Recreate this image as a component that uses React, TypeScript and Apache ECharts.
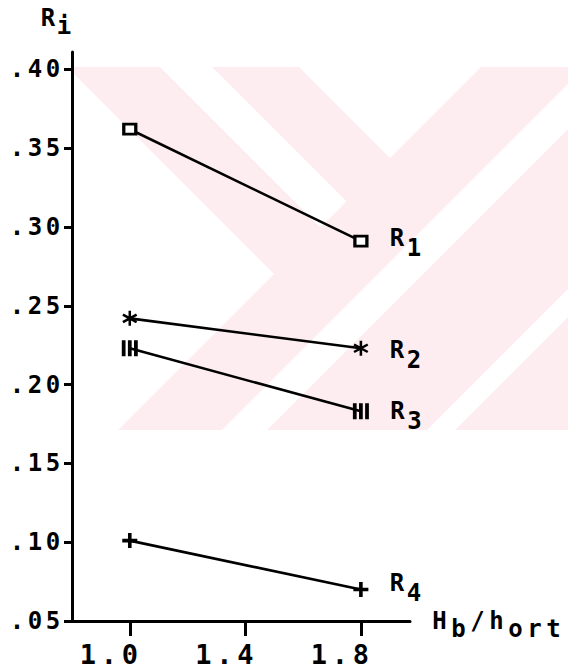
import React, { useEffect, useRef } from "react";
import * as echarts from "echarts";

// Abscissa: Hb/hort ratio at which each coefficient was evaluated
const ratioLevels = [1.0, 1.8];
// Coefficients R1..R4 at each ratio
const r1Values = [0.362, 0.291];
const r2Values = [0.242, 0.223];
const r3Values = [0.223, 0.183];
const r4Values = [0.101, 0.07];
const seriesIndexLabels = ["1", "2", "3", "4"];
// Axis ticks
const xTickValues = [1.0, 1.4, 1.8];
const yTickValues = [0.05, 0.1, 0.15, 0.2, 0.25, 0.3, 0.35, 0.4];

const FONT = "'DejaVu Sans Mono', monospace";
const INK = "#000";
const WATERMARK = "#fdedf0";

// marker glyphs, drawn as filled paths
const asteriskPath =
  "path://M4.2,0H5.8V10H4.2Z M8.93,1.81L9.73,3.19L1.07,8.19L0.27,6.81Z M9.73,6.81L8.93,8.19L0.27,3.19L1.07,1.81Z";
const barsPath = "path://M0,0H4V16H0Z M6.5,0H10.5V16H6.5Z M13,0H17V16H13Z";
const plusPath = "path://M3.8,0H6.2V3.8H10V6.2H6.2V10H3.8V6.2H0V3.8H3.8Z";

const markerSymbols = ["rect", asteriskPath, barsPath, plusPath];
const markerSizes = [[12, 10], [15, 15], [16, 16], [15, 15]];
const labelShift = [-3, 2, 0, -6];

// printer-style text: every character sits in a fixed-width cell
const cells = (text: string, key: string) =>
  text
    .split("")
    .map((ch) => `{${key}|${ch}}`)
    .join("");

const cellStyle = (size: number, width: number, drop = 0) => ({
  fontFamily: FONT,
  fontWeight: "bold",
  fontSize: size,
  color: INK,
  width,
  align: "center",
  padding: [drop * 2, 0, 0, 0],
});

const subscriptRich = (size: number, width: number, drop: number) => ({
  m: cellStyle(size, width),
  s: cellStyle(size, width, drop),
});

// pale chevron watermark behind the plot
const watermarkBox = { x: 74, y: 67, width: 494, height: 363 };
const watermarkGaps: number[][][] = [
  [[74, 74], [274, 274], [118, 430], [74, 430]],
  [[160, 67], [212, 67], [346.5, 201.5], [320.5, 227.5]],
  [[299, 67], [481, 67], [390, 158]],
  [[222, 430], [267, 430], [568, 129], [568, 84]],
  [[427, 430], [455, 430], [568, 317], [568, 289]],
];

export default function App() {
  const ref = useRef<HTMLDivElement>(null);

  useEffect(() => {
    if (!ref.current) return;
    const chart = echarts.init(ref.current, undefined, { renderer: "svg" });

    const allValues = [r1Values, r2Values, r3Values, r4Values];
    const series = allValues.map((vals, si) => ({
      type: "line",
      name: "R" + seriesIndexLabels[si],
      symbol: markerSymbols[si],
      symbolSize: markerSizes[si],
      showAllSymbol: true,
      lineStyle: { color: INK, width: 2.6 },
      itemStyle:
        si === 0
          ? { color: "#fff", borderColor: INK, borderWidth: 3 }
          : { color: INK, borderWidth: 0 },
      z: 3,
      data: ratioLevels.map((x, i) =>
        i === ratioLevels.length - 1
          ? {
              value: [x, vals[i]],
              label: {
                show: true,
                position: "right",
                distance: 20,
                offset: [0, labelShift[si]],
                formatter: `{m|R}{s|${seriesIndexLabels[si]}}`,
                rich: subscriptRich(24, 17, 10),
              },
            }
          : [x, vals[i]]
      ),
    }));

    const graphic: any[] = [
      {
        type: "rect",
        silent: true,
        z: -10,
        shape: watermarkBox,
        style: { fill: WATERMARK },
      },
      ...watermarkGaps.map((pts) => ({
        type: "polygon",
        silent: true,
        z: -9,
        shape: { points: pts },
        style: { fill: "#fff" },
      })),
    ];

    const xName =
      cells("H", "m") + cells("b", "s") + cells("/h", "m") + cells("ort", "s");

    chart.setOption({
      animation: false,
      backgroundColor: "#fff",
      grid: { left: 72, right: 158, top: 52, bottom: 48, containLabel: false },
      xAxis: {
        type: "value",
        min: 0.8,
        max: 1.97,
        splitLine: { show: false },
        axisLine: { onZero: false, lineStyle: { color: INK, width: 3 } },
        axisTick: {
          show: true,
          customValues: xTickValues,
          length: 15,
          lineStyle: { color: INK, width: 3 },
        },
        axisLabel: {
          customValues: xTickValues,
          margin: 20,
          color: INK,
          formatter: (v: number) => cells(v.toFixed(1), "c") + "{sp|\u00a0}",
          rich: {
            c: cellStyle(27, 21),
            sp: { width: 42, fontSize: 26 },
          },
        },
        name: xName,
        nameLocation: "end",
        nameGap: 20,
        nameTextStyle: { rich: subscriptRich(24, 19, 8) },
      },
      yAxis: {
        type: "value",
        min: 0.05,
        max: 0.411,
        splitLine: { show: false },
        axisLine: { lineStyle: { color: INK, width: 3 } },
        axisTick: {
          show: true,
          customValues: yTickValues,
          length: 8,
          lineStyle: { color: INK, width: 3 },
        },
        axisLabel: {
          customValues: yTickValues,
          margin: 10,
          color: INK,
          formatter: (v: number) => cells(v.toFixed(2).replace(/^0/, ""), "c"),
          rich: { c: cellStyle(24, 18) },
        },
        name: cells("R", "m") + cells("i", "s"),
        nameLocation: "end",
        nameGap: 14,
        nameTextStyle: { align: "right", rich: subscriptRich(24, 16, 8) },
      },
      graphic,
      series,
    } as any);

    return () => chart.dispose();
  }, []);

  return (
    <div
      ref={ref}
      style={{ position: "fixed", left: 0, top: 0, width: 568, height: 669 }}
    />
  );
}
